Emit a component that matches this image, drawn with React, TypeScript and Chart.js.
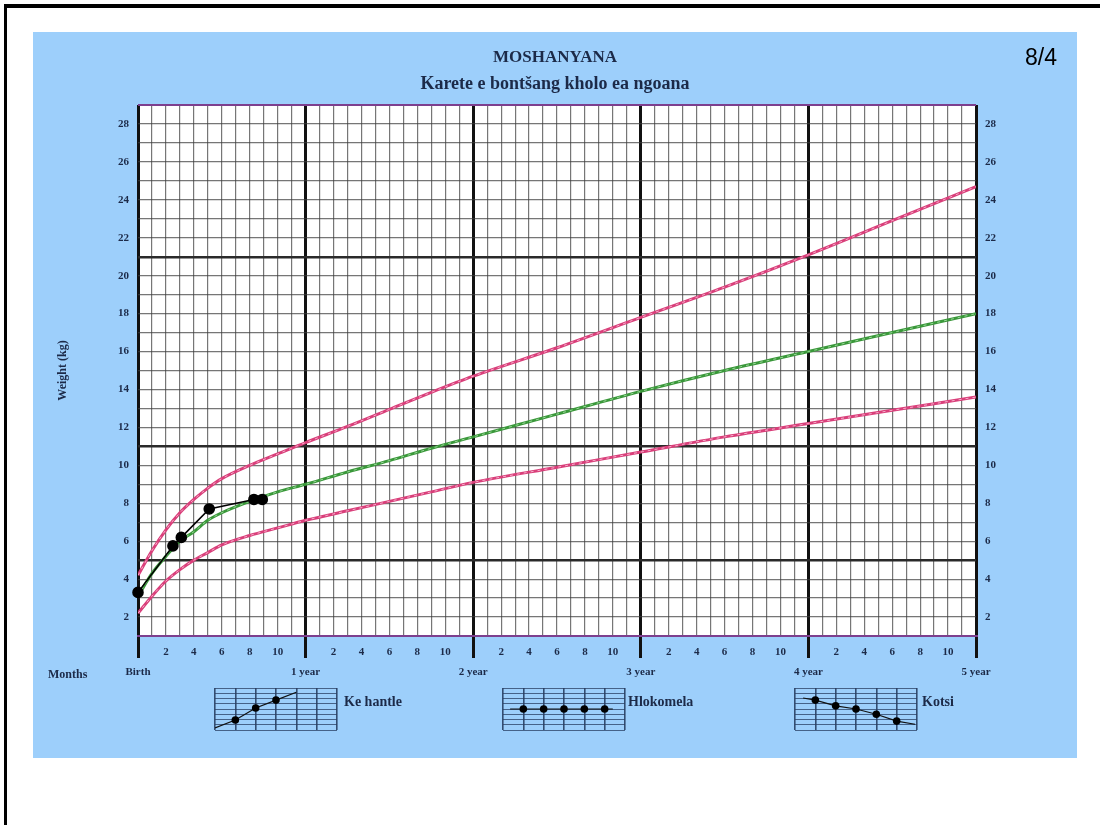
import React, { useEffect, useRef } from "react";
import { Chart, registerables } from "chart.js";

Chart.register(...registerables);

// ---- Data ----
const ageMonths = [0, 1, 2, 3, 4, 5, 6, 8, 10, 12, 15, 18, 21, 24, 30, 36, 42, 48, 54, 60];
const upperCurve = [4.2, 5.5, 6.6, 7.5, 8.2, 8.8, 9.3, 10.0, 10.6, 11.2, 12.05, 12.95, 13.85, 14.7, 16.2, 17.8, 19.4, 21.1, 22.9, 24.7];
const medianCurve = [3.1, 4.3, 5.2, 6.0, 6.5, 7.1, 7.5, 8.1, 8.6, 9.0, 9.65, 10.25, 10.9, 11.5, 12.7, 13.9, 15.0, 16.0, 17.0, 18.0];
const lowerCurve = [2.2, 3.1, 3.9, 4.5, 5.0, 5.4, 5.8, 6.3, 6.7, 7.1, 7.6, 8.1, 8.6, 9.1, 9.9, 10.7, 11.5, 12.2, 12.9, 13.6];

const childAges = [0, 2.5, 3.1, 5.1, 8.3, 8.9];
const childWeights = [3.3, 5.75, 6.2, 7.7, 8.2, 8.2];

const monthTickLabels = [2, 4, 6, 8, 10];
const yearLabels = ["Birth", "1 year", "2 year", "3 year", "4 year", "5 year"];
const darkWeightLines = [5, 11, 21];

// mini legend examples
const goodX = [0, 1, 2, 3, 4.0];
const goodY = [0.4, 1.9, 4.2, 5.7, 7.2];
const flatX = [0.35, 1, 2, 3, 4, 5, 5.4];
const flatY = [4.0, 4.0, 4.0, 4.0, 4.0, 4.0, 4.0];
const dangerX = [0.4, 1, 2, 3, 4, 5, 5.9];
const dangerY = [6.1, 5.7, 4.6, 4.0, 3.0, 1.7, 1.1];

const legendLabels = ["Ke hantle", "Hlokomela", "Kotsi"];

const SERIF = '"Liberation Serif", "DejaVu Serif", "Times New Roman", serif';
const NAVY = "#1c2a48";
const PINK = "#d93f7a";
const PINK_LIGHT = "rgba(250,190,215,0.85)";
const GREEN = "#3a983a";
const GREEN_LIGHT = "rgba(170,225,170,0.85)";

function pts(xs: number[], ys: number[]) {
  return xs.map((x, i) => ({ x, y: ys[i] }));
}

const whiteArea = {
  id: "whiteArea",
  beforeDraw(chart: any) {
    const { ctx, chartArea } = chart;
    if (!chartArea) return;
    ctx.save();
    ctx.fillStyle = "#ffffff";
    ctx.fillRect(chartArea.left, chartArea.top, chartArea.right - chartArea.left, chartArea.bottom - chartArea.top);
    ctx.restore();
  },
};

function curve(ys: number[], color: string, width: number, dash: number[] = []) {
  return {
    data: pts(ageMonths, ys),
    borderColor: color,
    borderWidth: width,
    borderDash: dash,
    pointRadius: 0,
    cubicInterpolationMode: "monotone",
  };
}

function MainChart() {
  const ref = useRef<HTMLCanvasElement>(null);
  useEffect(() => {
    const yTickCb = (v: any) => (Number(v) % 2 === 0 ? String(v) : "");
    const chart = new Chart(ref.current!, {
      type: "line",
      plugins: [whiteArea],
      data: {
        datasets: [
          {
            data: pts(childAges, childWeights),
            borderColor: "#000",
            borderWidth: 1.6,
            pointRadius: 5,
            pointBackgroundColor: "#000",
            pointBorderColor: "#000",
            tension: 0,
            clip: false,
          },
          curve(upperCurve, PINK_LIGHT, 1, [3, 4]),
          curve(medianCurve, GREEN_LIGHT, 1, [3, 4]),
          curve(lowerCurve, PINK_LIGHT, 1, [3, 4]),
          curve(upperCurve, PINK, 3),
          curve(medianCurve, GREEN, 3),
          curve(lowerCurve, PINK, 3),
        ],
      },
      options: {
        animation: false,
        responsive: false,
        events: [],
        layout: { padding: { top: 73, left: 0, right: 0, bottom: 0 } },
        plugins: { legend: { display: false }, tooltip: { enabled: false }, title: { display: false } },
        scales: {
          x: {
            type: "linear",
            min: 0,
            max: 60,
            afterFit: (s: any) => {
              s.height = 122;
            },
            ticks: {
              stepSize: 1,
              autoSkip: false,
              maxRotation: 0,
              padding: -16,
              color: NAVY,
              font: { family: SERIF, weight: "bold", size: 11, lineHeight: "20px" },
              callback: (v: any) => {
                const n = Number(v);
                if (n % 12 === 0) return ["", yearLabels[n / 12]];
                const m = n % 12;
                return monthTickLabels.includes(m) ? String(m) : "";
              },
            },
            grid: {
              drawTicks: true,
              tickLength: 22,
              color: (c: any) => (c.tick && c.tick.value % 12 === 0 ? "#111" : "rgba(60,60,60,0.7)"),
              lineWidth: (c: any) => (c.tick && c.tick.value % 12 === 0 ? 3 : 1.2),
              tickColor: (c: any) => (c.tick && c.tick.value % 12 === 0 ? "#111" : "rgba(0,0,0,0)"),
              tickWidth: (c: any) => (c.tick && c.tick.value % 12 === 0 ? 3 : 0),
            },
            border: { display: true, color: "#7d3f8e", width: 2 },
          },
          y: {
            type: "linear",
            position: "left",
            min: 1,
            max: 29,
            afterFit: (s: any) => {
              s.width = 105;
            },
            ticks: {
              stepSize: 1,
              autoSkip: false,
              padding: 9,
              color: NAVY,
              font: { family: SERIF, weight: "bold", size: 11 },
              callback: yTickCb,
            },
            grid: {
              drawTicks: false,
              color: (c: any) => {
                const v = c.tick ? c.tick.value : 0;
                if (v === 1 || v === 29) return "#7d3f8e";
                return darkWeightLines.includes(v) ? "#2a2a2a" : "rgba(60,60,60,0.7)";
              },
              lineWidth: (c: any) => {
                const v = c.tick ? c.tick.value : 0;
                if (v === 1 || v === 29) return 2;
                return darkWeightLines.includes(v) ? 2.4 : 1.2;
              },
            },
            border: { display: false },
            title: {
              display: true,
              text: "Weight (kg)",
              color: NAVY,
              font: { family: SERIF, weight: "bold", size: 12 },
              padding: { top: 23, bottom: 0 },
            },
          },
          y2: {
            type: "linear",
            position: "right",
            min: 1,
            max: 29,
            afterFit: (s: any) => {
              s.width = 101;
            },
            ticks: {
              stepSize: 1,
              autoSkip: false,
              padding: 9,
              color: NAVY,
              font: { family: SERIF, weight: "bold", size: 11 },
              callback: yTickCb,
            },
            grid: { display: false, drawTicks: false },
            border: { display: false },
          },
        },
      },
    } as any);
    return () => chart.destroy();
  }, []);
  return (
    <canvas
      ref={ref}
      width={1044}
      height={726}
      style={{ position: "absolute", left: 33, top: 32, width: 1044, height: 726 }}
    />
  );
}

function MiniChart({ xs, ys, left, top }: { xs: number[]; ys: number[]; left: number; top: number }) {
  const ref = useRef<HTMLCanvasElement>(null);
  useEffect(() => {
    const last = xs.length - 1;
    const chart = new Chart(ref.current!, {
      type: "line",
      data: {
        datasets: [
          {
            data: pts(xs, ys),
            borderColor: "#111",
            borderWidth: 1.2,
            pointRadius: (c: any) => (c.dataIndex === 0 || c.dataIndex === last ? 0 : 3.8),
            pointBackgroundColor: "#000",
            pointBorderWidth: 0,
            tension: 0,
          },
        ],
      },
      options: {
        animation: false,
        responsive: false,
        events: [],
        layout: { padding: 1 },
        plugins: { legend: { display: false }, tooltip: { enabled: false } },
        scales: {
          x: {
            type: "linear",
            min: 0,
            max: 6,
            ticks: { display: false, stepSize: 1 },
            grid: { drawTicks: false, color: "rgba(40,62,98,0.9)", lineWidth: 1.6 },
            border: { display: false },
          },
          y: {
            type: "linear",
            min: 0,
            max: 8,
            ticks: { display: false, stepSize: 1 },
            grid: { drawTicks: false, color: "rgba(40,62,98,0.75)", lineWidth: 1 },
            border: { display: false },
          },
        },
      },
    } as any);
    return () => chart.destroy();
  }, []);
  return (
    <canvas
      ref={ref}
      width={124}
      height={44}
      style={{ position: "absolute", left, top, width: 124, height: 44 }}
    />
  );
}

const textStyle = (left: number, top: number, size: number, extra: any = {}) => ({
  position: "absolute" as const,
  left,
  top,
  fontFamily: SERIF,
  fontWeight: "bold" as const,
  fontSize: size,
  lineHeight: `${Math.round(size * 1.25)}px`,
  color: NAVY,
  whiteSpace: "nowrap" as const,
  ...extra,
});

export default function App() {
  return (
    <div
      style={{
        position: "fixed",
        left: 0,
        top: 0,
        width: 1100,
        height: 825,
        background: "#fff",
        overflow: "hidden",
      }}
    >
      {/* page frame */}
      <div
        style={{
          position: "absolute",
          left: 4,
          top: 4,
          width: 1200,
          height: 1000,
          borderTop: "4px solid #000",
          borderLeft: "3px solid #000",
        }}
      />
      {/* blue panel */}
      <div style={{ position: "absolute", left: 33, top: 32, width: 1044, height: 726, background: "#9dcffb" }} />
      <MainChart />
      <div style={textStyle(33, 46, 17, { width: 1044, textAlign: "center" })}>MOSHANYANA</div>
      <div style={textStyle(33, 72, 18, { width: 1044, textAlign: "center" })}>Karete e bontšang kholo ea ngoana</div>
      <div
        style={{
          position: "absolute",
          left: 1025,
          top: 44,
          fontFamily: '"Liberation Sans", Arial, sans-serif',
          fontSize: 23,
          lineHeight: "26px",
          color: "#000",
        }}
      >
        8/4
      </div>
      <div style={textStyle(48, 667, 12)}>Months</div>

      <MiniChart xs={goodX} ys={goodY} left={214} top={687} />
      <MiniChart xs={flatX} ys={flatY} left={502} top={687} />
      <MiniChart xs={dangerX} ys={dangerY} left={794} top={687} />
      <div style={textStyle(344, 693, 14)}>{legendLabels[0]}</div>
      <div style={textStyle(628, 693, 14)}>{legendLabels[1]}</div>
      <div style={textStyle(922, 693, 14)}>{legendLabels[2]}</div>
    </div>
  );
}
